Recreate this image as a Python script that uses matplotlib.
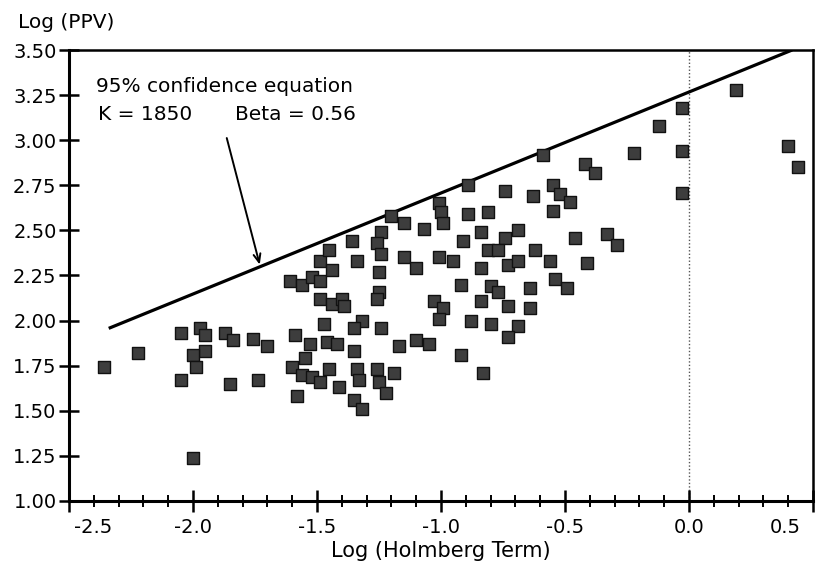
import matplotlib
matplotlib.use("Agg")
import matplotlib.pyplot as plt
from matplotlib.transforms import ScaledTranslation
from matplotlib.ticker import MultipleLocator

# ---- data ----
log_holmberg = [
    -2.36, -2.22, -2.05, -2.05, -1.97, -1.95, -1.95, -2.00, -1.99, -2.00,
    -1.87, -1.84, -1.85, -1.76, -1.70, -1.74,
    -1.61, -1.56, -1.52, -1.49, -1.49, -1.45, -1.44, -1.36, -1.34, -1.49,
    -1.44, -1.40, -1.39, -1.47, -1.32, -1.35, -1.59, -1.53, -1.46, -1.42,
    -1.35, -1.55, -1.60, -1.56, -1.52, -1.49, -1.45, -1.34, -1.33, -1.41,
    -1.58, -1.35, -1.32,
    -1.20, -1.15, -1.07, -1.01, -1.00, -0.99, -1.24, -1.26, -1.24, -1.15,
    -1.10, -1.25, -1.01, -0.95, -1.25, -1.26, -1.03, -0.99, -1.01, -1.24,
    -1.17, -1.10, -1.05, -1.26, -1.25, -1.19, -1.22,
    -0.89, -0.74, -0.63, -0.89, -0.81, -0.84, -0.74, -0.69, -0.91, -0.81,
    -0.77, -0.84, -0.73, -0.69, -0.92, -0.80, -0.77, -0.84, -0.73, -0.88,
    -0.80, -0.69, -0.73, -0.92, -0.83, -0.59, -0.42, -0.38, -0.55, -0.52,
    -0.48, -0.55, -0.46, -0.33, -0.29, -0.62, -0.56, -0.41, -0.54, -0.49,
    -0.64, -0.64,
    -0.22, -0.12, -0.03, -0.03, -0.03, 0.19, 0.40, 0.44,
]
log_ppv = [
    1.74, 1.82, 1.93, 1.67, 1.96, 1.92, 1.83, 1.81, 1.74, 1.24,
    1.93, 1.89, 1.65, 1.90, 1.86, 1.67,
    2.22, 2.20, 2.24, 2.22, 2.33, 2.39, 2.28, 2.44, 2.33, 2.12,
    2.09, 2.12, 2.08, 1.98, 2.00, 1.96, 1.92, 1.87, 1.88, 1.87,
    1.83, 1.79, 1.74, 1.70, 1.69, 1.66, 1.73, 1.73, 1.67, 1.63,
    1.58, 1.56, 1.51,
    2.58, 2.54, 2.51, 2.65, 2.60, 2.54, 2.49, 2.43, 2.37, 2.35,
    2.29, 2.27, 2.35, 2.33, 2.16, 2.12, 2.11, 2.07, 2.01, 1.96,
    1.86, 1.89, 1.87, 1.73, 1.66, 1.71, 1.60,
    2.75, 2.72, 2.69, 2.59, 2.60, 2.49, 2.46, 2.50, 2.44, 2.39,
    2.39, 2.29, 2.31, 2.33, 2.20, 2.19, 2.16, 2.11, 2.08, 2.00,
    1.98, 1.97, 1.91, 1.81, 1.71, 2.92, 2.87, 2.82, 2.75, 2.70,
    2.66, 2.61, 2.46, 2.48, 2.42, 2.39, 2.33, 2.32, 2.23, 2.18,
    2.18, 2.07,
    2.93, 3.08, 3.18, 2.94, 2.71, 3.28, 2.97, 2.85,
]

# 95% confidence line (K = 1850, Beta = 0.56)
line_x = [-2.34, 0.416]
line_y = [1.957, 3.50]

x_ticks = [-2.5, -2.0, -1.5, -1.0, -0.5, 0.0, 0.5]
x_ticklabels = ["-2.5", "-2.0", "-1.5", "-1.0", "-0.5", "0.0", "0.5"]
y_ticks = [1.00, 1.25, 1.50, 1.75, 2.00, 2.25, 2.50, 2.75, 3.00, 3.25, 3.50]
y_ticklabels = ["1.00", "1.25", "1.50", "1.75", "2.00", "2.25", "2.50",
                "2.75", "3.00", "3.25", "3.50"]

plt.rcParams['font.family'] = ['DejaVu Sans']

fig = plt.figure(figsize=(8.17, 5.65), dpi=100)
ax = fig.add_axes([0.0845, 0.1133, 0.9106, 0.7982])

ax.set_xlim(-2.5, 0.5)
ax.set_ylim(1.0, 3.5)

# dotted reference line at x = 0
ax.axvline(0.0, color="#555555", lw=1.0, ls=(0, (1, 1.5)), zorder=1)

# confidence line
ax.plot(line_x, line_y, color="black", lw=2.3, solid_capstyle="butt", zorder=2)

# scatter points
ax.scatter(log_holmberg, log_ppv, marker="s", s=72, facecolor="#3d3d3d",
           edgecolor="#111111", linewidths=1.0, zorder=3)

# annotation text and arrow
ax.text(-2.39, 3.295, "95% confidence equation", fontsize=14.5,
        ha="left", va="center")
ax.text(-2.385, 3.145, "K = 1850", fontsize=14.5, ha="left", va="center")
ax.text(-1.832, 3.145, "Beta = 0.56", fontsize=14.5, ha="left", va="center")
ax.annotate("", xy=(-1.731, 2.31), xytext=(-1.864, 3.012),
            arrowprops=dict(arrowstyle="->,head_length=0.6,head_width=0.25",
                            color="black", lw=1.4, shrinkA=0, shrinkB=0))

# ticks
ax.set_xticks(x_ticks)
ax.set_xticklabels(x_ticklabels)
ax.set_yticks(y_ticks)
ax.set_yticklabels(y_ticklabels)
ax.xaxis.set_minor_locator(MultipleLocator(0.1))
ax.tick_params(axis="x", which="major", direction="inout", length=16,
               width=1.8, labelsize=14, pad=4)
ax.tick_params(axis="x", which="minor", direction="inout", length=9,
               width=1.4)
ax.tick_params(axis="y", which="major", direction="inout", length=14,
               width=1.8, labelsize=14, pad=2)
ax.tick_params(top=False, right=False)

# shift end labels inward like the reference
lbls = ax.get_xticklabels()
lbls[0].set_transform(lbls[0].get_transform() +
                      ScaledTranslation(0.24, 0, fig.dpi_scale_trans))
lbls[-1].set_transform(lbls[-1].get_transform() +
                       ScaledTranslation(-0.28, 0, fig.dpi_scale_trans))

for side in ["left", "bottom"]:
    ax.spines[side].set_linewidth(2.2)
for side in ["top", "right"]:
    ax.spines[side].set_linewidth(1.8)

ax.set_xlabel("Log (Holmberg Term)", fontsize=15, labelpad=3)
fig.text(18 / 817, 1 - 22 / 565, "Log (PPV)", fontsize=14.5,
         ha="left", va="center")

fig.savefig("out.png", dpi=100)
